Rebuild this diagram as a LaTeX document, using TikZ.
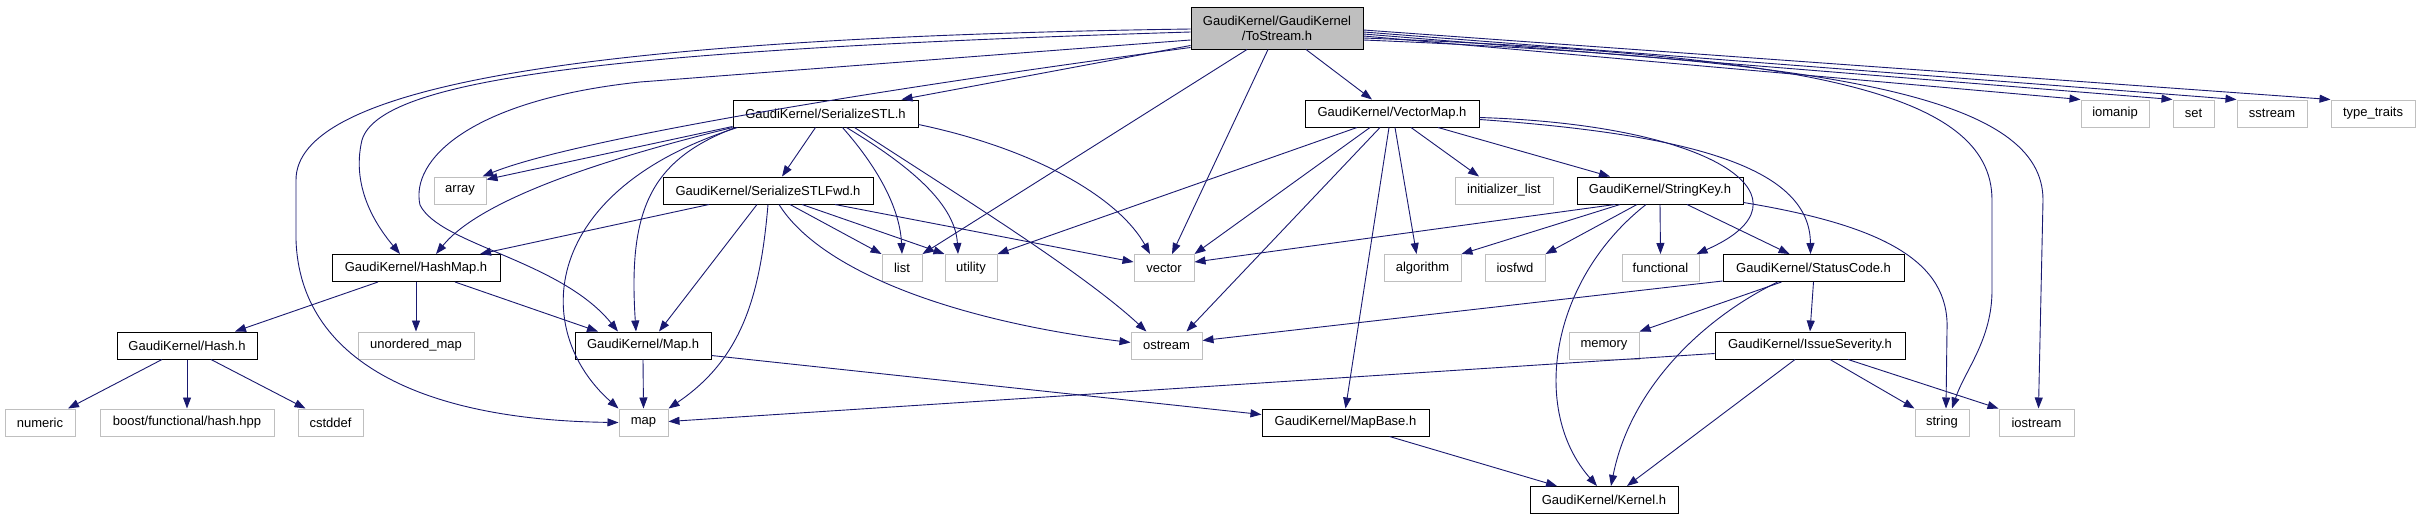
\documentclass[tikz,border=0pt]{standalone}
\usepackage{fontspec}
\setmainfont{Liberation Sans}
\usetikzlibrary{arrows.meta}
\definecolor{edgeblue}{HTML}{191970}
\definecolor{sysgray}{HTML}{BFBFBF}
\begin{document}
\begin{tikzpicture}[x=1pt,y=-1pt,
  box/.style={rectangle, inner sep=0pt, minimum height=27pt, line width=1pt, font=\fontsize{13}{15}\selectfont},
  doc/.style={box, draw=black},
  sys/.style={box, draw=sysgray},
  edge/.style={draw=edgeblue, line width=0.9pt, -{Triangle[length=11pt,width=8pt]}}
]
\fill[white] (0,0) rectangle (2420,520);
\path[use as bounding box] (0,0) rectangle (2420,520);

% row 0
\node[doc, fill=sysgray, minimum width=172pt, minimum height=42pt, align=center] (ts) at (1277,28) {GaudiKernel/GaudiKernel\\/ToStream.h};
% row 1
\node[doc, minimum width=185pt] (sstl) at (825.5,113.5) {GaudiKernel/SerializeSTL.h};
\node[doc, minimum width=174pt] (vmap) at (1392,113.5) {GaudiKernel/VectorMap.h};
\node[sys, minimum width=68pt] (iomanip) at (2115,113.5) {iomanip};
\node[sys, minimum width=41pt] (set) at (2193.5,113.5) {set};
\node[sys, minimum width=70pt] (sstream) at (2272,113.5) {sstream};
\node[sys, minimum width=84pt] (ttraits) at (2373,113.5) {type\_traits};
% row 2
\node[sys, minimum width=52pt] (array) at (460,190.5) {array};
\node[doc, minimum width=210pt] (sfwd) at (768,190.5) {GaudiKernel/SerializeSTLFwd.h};
\node[sys, minimum width=98pt] (initlist) at (1504,190.5) {initializer\_list};
\node[doc, minimum width=166pt] (skey) at (1660,190.5) {GaudiKernel/StringKey.h};
% row 3
\node[doc, minimum width=168pt] (hmap) at (416,268) {GaudiKernel/HashMap.h};
\node[sys, minimum width=40pt] (list) at (902,268) {list};
\node[sys, minimum width=52pt] (utility) at (971,268) {utility};
\node[sys, minimum width=60pt] (vector) at (1164,268) {vector};
\node[sys, minimum width=77pt] (algorithm) at (1422.5,268) {algorithm};
\node[sys, minimum width=60pt] (iosfwd) at (1515,268) {iosfwd};
\node[sys, minimum width=77pt] (functional) at (1660.5,268) {functional};
\node[doc, minimum width=181pt] (scode) at (1813.5,268) {GaudiKernel/StatusCode.h};
% row 4
\node[doc, minimum width=140pt] (hash) at (187,345.5) {GaudiKernel/Hash.h};
\node[sys, minimum width=116pt] (umap) at (416,345.5) {unordered\_map};
\node[doc, minimum width=136pt] (maph) at (643,345.5) {GaudiKernel/Map.h};
\node[sys, minimum width=71pt] (ostream) at (1166.5,345.5) {ostream};
\node[sys, minimum width=70pt] (memory) at (1604,345.5) {memory};
\node[doc, minimum width=190pt] (isev) at (1810,345.5) {GaudiKernel/IssueSeverity.h};
% row 5
\node[sys, minimum width=70pt] (numeric) at (40,422.5) {numeric};
\node[sys, minimum width=174pt] (boost) at (187,422.5) {boost/functional/hash.hpp};
\node[sys, minimum width=65pt] (cstddef) at (330.5,422.5) {cstddef};
\node[sys, minimum width=49pt] (map) at (643.5,422.5) {map};
\node[doc, minimum width=167pt] (mapbase) at (1345.5,422.5) {GaudiKernel/MapBase.h};
\node[sys, minimum width=54pt] (string) at (1942,422.5) {string};
\node[sys, minimum width=75pt] (iostream) at (2036.5,422.5) {iostream};
% row 6
\node[doc, minimum width=148pt] (kernel) at (1604,500) {GaudiKernel/Kernel.h};

% ToStream.h
\draw[edge] ([yshift=4pt]ts.south west) -- ([xshift=76pt]sstl.north);
\draw[edge] ([xshift=29pt]ts.south) -- ([xshift=-20pt]vmap.north);
\draw[edge] ([yshift=2pt]ts.south west) .. controls (800,100) and (560,145) .. ([xshift=-4pt]array.north east);
\draw[edge] ([yshift=-4pt]ts.west) .. controls (600,50) and (380,80) .. (362,140) .. controls (350,190) and (380,230) .. ([xshift=-16pt]hmap.north);
\draw[edge] ([yshift=-12pt]ts.west) -- (640,82) .. controls (470,100) and (410,160) .. (420,205) .. controls (440,245) and (560,260) .. ([xshift=-25pt]maph.north);
\draw[edge] ([yshift=-1pt]ts.west) .. controls (560,38) and (296,90) .. (296,180) -- (296,240) .. controls (300,360) and (420,420) .. (map.west);
\draw[edge] ([xshift=-30pt]ts.south) -- (list.north east);
\draw[edge] ([xshift=-9pt]ts.south) -- ([xshift=8pt]vector.north);
\draw[edge] ([yshift=-8pt]ts.east) -- (iomanip.north west);
\draw[edge] ([yshift=-6pt]ts.east) -- (set.north west);
\draw[edge] ([yshift=-4pt]ts.east) -- (sstream.north west);
\draw[edge] ([yshift=-2pt]ts.east) -- (ttraits.north west);
\draw[edge] ([yshift=-10pt]ts.east) .. controls (1800,55) and (1992,90) .. (1992,200) -- (1992,290) .. controls (1992,340) and (1965,370) .. ([xshift=10pt]string.north);
\draw[edge] ([yshift=-12pt]ts.east) .. controls (1850,60) and (2043,100) .. (2043,200) -- ([xshift=2pt]iostream.north);

% SerializeSTL.h
\draw[edge] ([xshift=-10pt]sstl.south) -- ([xshift=14pt]sfwd.north);
\draw[edge] ([yshift=1pt]sstl.south west) -- ([yshift=-3pt]array.north east);
\draw[edge] (sstl.south west) .. controls (600,160) and (480,200) .. ([xshift=20pt]hmap.north);
\draw[edge] ([xshift=5pt]sstl.south west) .. controls (540,190) and (530,330) .. (map.north west);
\draw[edge] ([xshift=3pt]sstl.south west) .. controls (650,160) and (628,210) .. ([xshift=-7pt]maph.north);
\draw[edge] ([xshift=17pt]sstl.south) .. controls (880,170) and (900,210) .. (list.north);
\draw[edge] ([xshift=21pt]sstl.south) .. controls (900,160) and (955,200) .. ([xshift=-13pt]utility.north);
\draw[edge] ([xshift=29pt]sstl.south) .. controls (950,190) and (1080,270) .. ([xshift=-20pt]ostream.north);
\draw[edge] ([yshift=3pt]sstl.south east) .. controls (1040,150) and (1120,200) .. ([xshift=-14pt]vector.north);

% VectorMap.h
\draw[edge] ([xshift=19pt]vmap.south) -- ([xshift=-25pt]initlist.north);
\draw[edge] ([xshift=46pt]vmap.south) -- ([xshift=-50pt]skey.north);
\draw[edge] ([xshift=3pt]vmap.south) -- ([xshift=-6pt]algorithm.north);
\draw[edge] ([xshift=-3pt]vmap.south) -- (mapbase.north);
\draw[edge] ([xshift=-35pt]vmap.south) -- (utility.north east);
\draw[edge] ([xshift=-22pt]vmap.south) -- (vector.north east);
\draw[edge] ([xshift=-12pt]vmap.south) -- ([xshift=20pt]ostream.north);
\draw[edge] ([yshift=-4pt]vmap.east) .. controls (1720,125) and (1820,200) .. ([xshift=36pt]functional.north);
\draw[edge] ([yshift=-6pt]vmap.east) .. controls (1700,135) and (1810,170) .. ([xshift=-3pt]scode.north);

% StringKey.h
\draw[edge] ([xshift=-45pt]skey.south) -- ([yshift=6pt]vector.east);
\draw[edge] ([xshift=-40pt]skey.south) -- (algorithm.north east);
\draw[edge] ([xshift=-23pt]skey.south) -- (iosfwd.north east);
\draw[edge] ([xshift=-14pt]skey.south) .. controls (1550,280) and (1530,410) .. ([xshift=-7pt]kernel.north);
\draw[edge] (skey.south) -- (functional.north);
\draw[edge] ([xshift=27pt]skey.south) -- ([xshift=-24pt]scode.north);
\draw[edge] ([yshift=2pt]skey.south east) .. controls (1880,225) and (1950,260) .. (1947,330) -- ([xshift=4pt]string.north);

% StatusCode.h
\draw[edge] ([yshift=1pt]scode.south west) -- ([yshift=5pt]ostream.east);
\draw[edge] ([xshift=-32pt]scode.south) -- (memory.north east);
\draw[edge] ([xshift=-36pt]scode.south) .. controls (1700,320) and (1630,390) .. ([xshift=7pt]kernel.north);
\draw[edge] (scode.south) -- (isev.north);

% IssueSeverity.h
\draw[edge] ([yshift=-8pt]isev.west) -- ([yshift=1pt]map.east);
\draw[edge] ([xshift=-15pt]isev.south) -- ([xshift=23pt]kernel.north);
\draw[edge] ([xshift=20pt]isev.south) -- (string.north west);
\draw[edge] ([xshift=38pt]isev.south) -- (iostream.north west);

% Map.h, MapBase.h
\draw[edge] ([yshift=4pt]maph.south east) -- ([yshift=8pt]mapbase.west);
\draw[edge] (maph.south) -- (map.north);
\draw[edge] ([xshift=44pt]mapbase.south) -- ([xshift=-47pt]kernel.north);

% HashMap.h
\draw[edge] ([xshift=-38pt]hmap.south) -- ([xshift=48pt]hash.north);
\draw[edge] (hmap.south) -- (umap.north);
\draw[edge] ([xshift=39pt]hmap.south) -- ([xshift=-45pt]maph.north);

% Hash.h
\draw[edge] ([xshift=-25pt]hash.south) -- ([xshift=28pt]numeric.north);
\draw[edge] (hash.south) -- (boost.north);
\draw[edge] ([xshift=24pt]hash.south) -- ([xshift=-25pt]cstddef.north);

% SerializeSTLFwd.h
\draw[edge] ([xshift=-59pt]sfwd.south) -- ([xshift=64pt]hmap.north);
\draw[edge] ([xshift=-11pt]sfwd.south) -- ([xshift=16pt]maph.north);
\draw[edge] (sfwd.south) .. controls (760,300) and (740,360) .. (map.north east);
\draw[edge] ([xshift=11pt]sfwd.south) .. controls (820,270) and (950,320) .. ([yshift=3pt]ostream.west);
\draw[edge] ([xshift=22pt]sfwd.south) -- (list.north west);
\draw[edge] ([xshift=34pt]sfwd.south) -- (utility.north west);
\draw[edge] ([xshift=67pt]sfwd.south) -- ([yshift=6pt]vector.west);
\end{tikzpicture}
\end{document}
